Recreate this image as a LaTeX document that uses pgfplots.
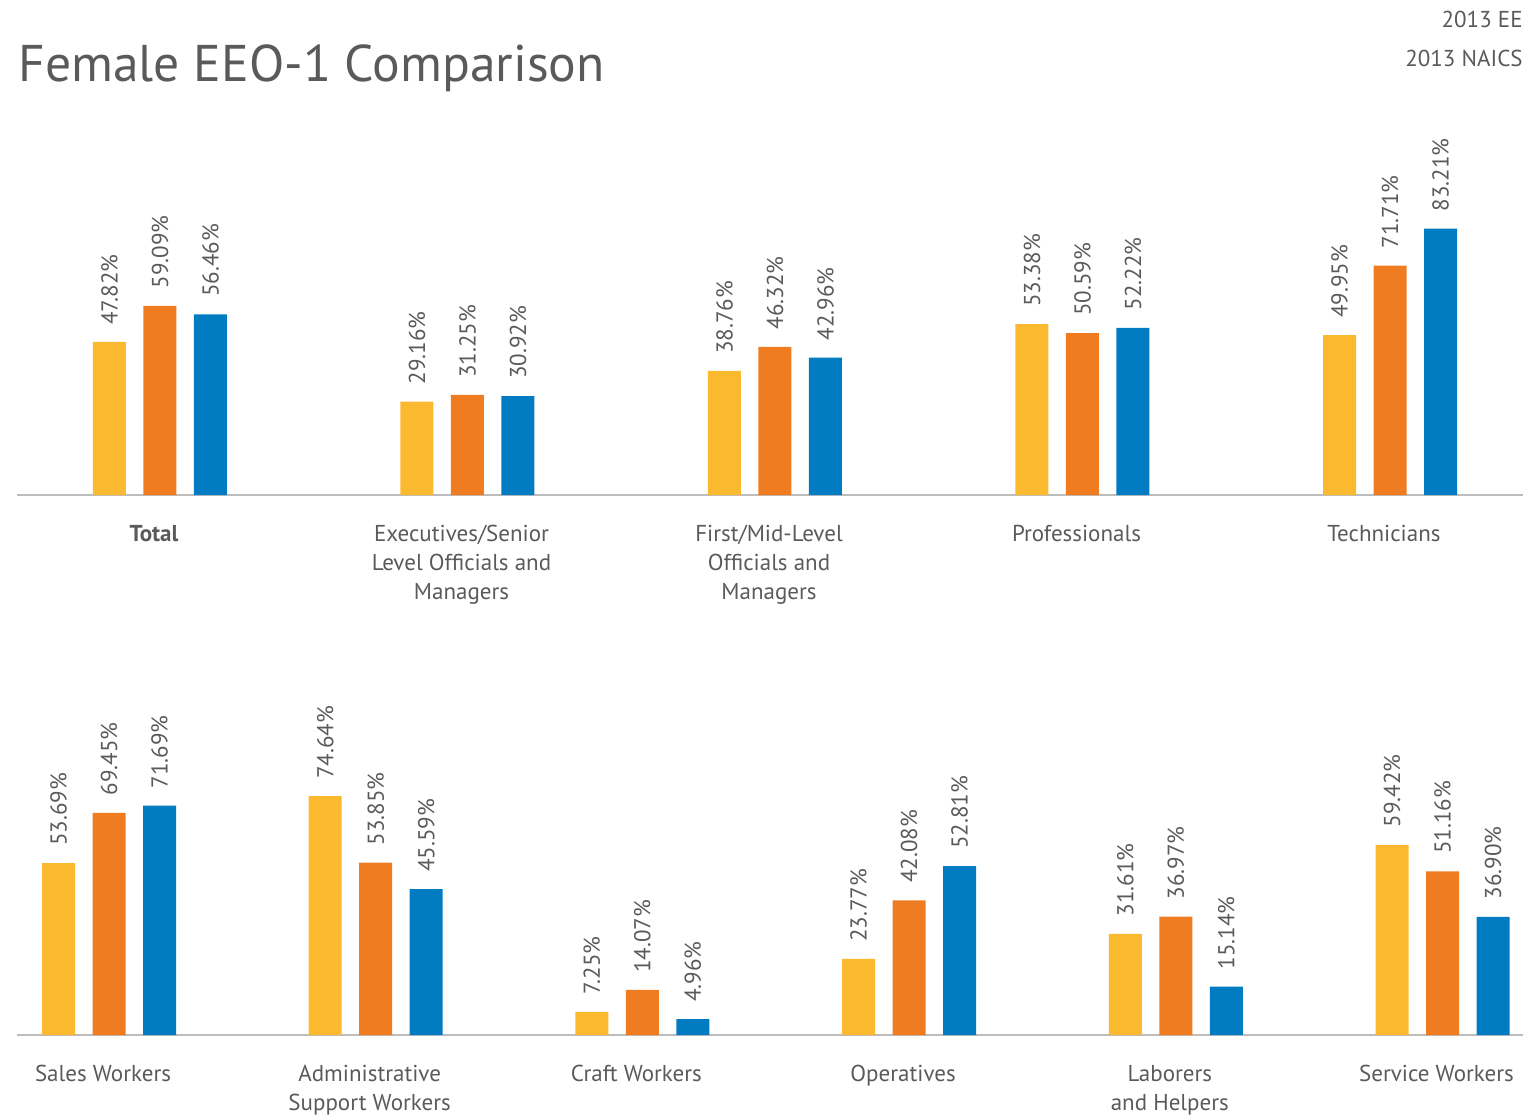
\documentclass[border=0pt]{standalone}
\usepackage{pgfplots}
\pgfplotsset{compat=1.18}
\usepackage{fontspec}
\setmainfont{PT Sans}
\definecolor{cy}{HTML}{FBB92F}
\definecolor{co}{HTML}{F07C22}
\definecolor{cb}{HTML}{017CC2}
\definecolor{tx}{HTML}{5A5A5C}
\definecolor{axc}{HTML}{BDBDBD}
\pgfplotsset{
  eeo/.style={
    scale only axis,
    anchor=south west,
    ybar=8.75pt, bar width=16.5pt,
    y=1.6pt, ymin=0, ymax=100,
    axis y line=none,
    axis x line*=bottom,
    x axis line style={-, draw=axc, line width=0.6pt},
    xtick style={draw=none},
    major tick length=0pt,
    xticklabel style={font=\fontsize{11.5}{14.5}\selectfont, text=tx, align=center, anchor=north, inner sep=0pt, yshift=-15pt, xshift=-3pt},
    nodes near coords={\pgfmathprintnumber[fixed,fixed zerofill,precision=2,assume math mode=true]{\pgfplotspointmeta}\%},
    every node near coord/.append style={font=\fontsize{11.5}{14}\selectfont, text=tx, rotate=90, anchor=west, inner sep=0pt, xshift=8.5pt},
    clip=false,
    enlargelimits=false,
  }
}
\begin{document}
\begin{tikzpicture}
\useasboundingbox (0,0) rectangle (761.5pt,558pt);
\clip (0,0) rectangle (761.5pt,558pt);
\node[anchor=base west, text=tx, font=\fontsize{25.8}{30}\selectfont, inner sep=0pt] at (9pt,517pt) {Female EEO-1 Comparison};
\node[anchor=base east, text=tx, font=\fontsize{11.5}{14}\selectfont, inner sep=0pt] at (761.5pt,544pt) {2013 EE};
\node[anchor=base east, text=tx, font=\fontsize{11.5}{14}\selectfont, inner sep=0pt] at (761.5pt,524.5pt) {2013 NAICS};
\begin{axis}[eeo, at={(8.5pt,310.5pt)}, x=153.75pt, xmin=-0.465, xmax=4.6,
  xtick={0,...,4},
  xticklabels={{\textbf{Total}}, {Executives/Senior\\Level Officials and\\Managers}, {First/Mid-Level\\Officials and\\Managers}, {Professionals}, {Technicians}}]
\addplot[fill=cy, draw=none] coordinates {(0,47.82) (1,29.16) (2,38.76) (3,53.38) (4,49.95)};
\addplot[fill=co, draw=none] coordinates {(0,59.09) (1,31.25) (2,46.32) (3,50.59) (4,71.71)};
\addplot[fill=cb, draw=none] coordinates {(0,56.46) (1,30.92) (2,42.96) (3,52.22) (4,83.21)};
\end{axis}
\begin{axis}[eeo, at={(8.5pt,40.5pt)}, x=133.35pt, xmin=-0.345, xmax=5.5,
  xtick={0,...,5},
  xticklabels={{Sales Workers}, {Administrative\\Support Workers}, {Craft Workers}, {Operatives}, {Laborers\\and Helpers}, {Service Workers}}]
\addplot[fill=cy, draw=none] coordinates {(0,53.69) (1,74.64) (2,7.25) (3,23.77) (4,31.61) (5,59.42)};
\addplot[fill=co, draw=none] coordinates {(0,69.45) (1,53.85) (2,14.07) (3,42.08) (4,36.97) (5,51.16)};
\addplot[fill=cb, draw=none] coordinates {(0,71.69) (1,45.59) (2,4.96) (3,52.81) (4,15.14) (5,36.90)};
\end{axis}
\end{tikzpicture}
\end{document}
